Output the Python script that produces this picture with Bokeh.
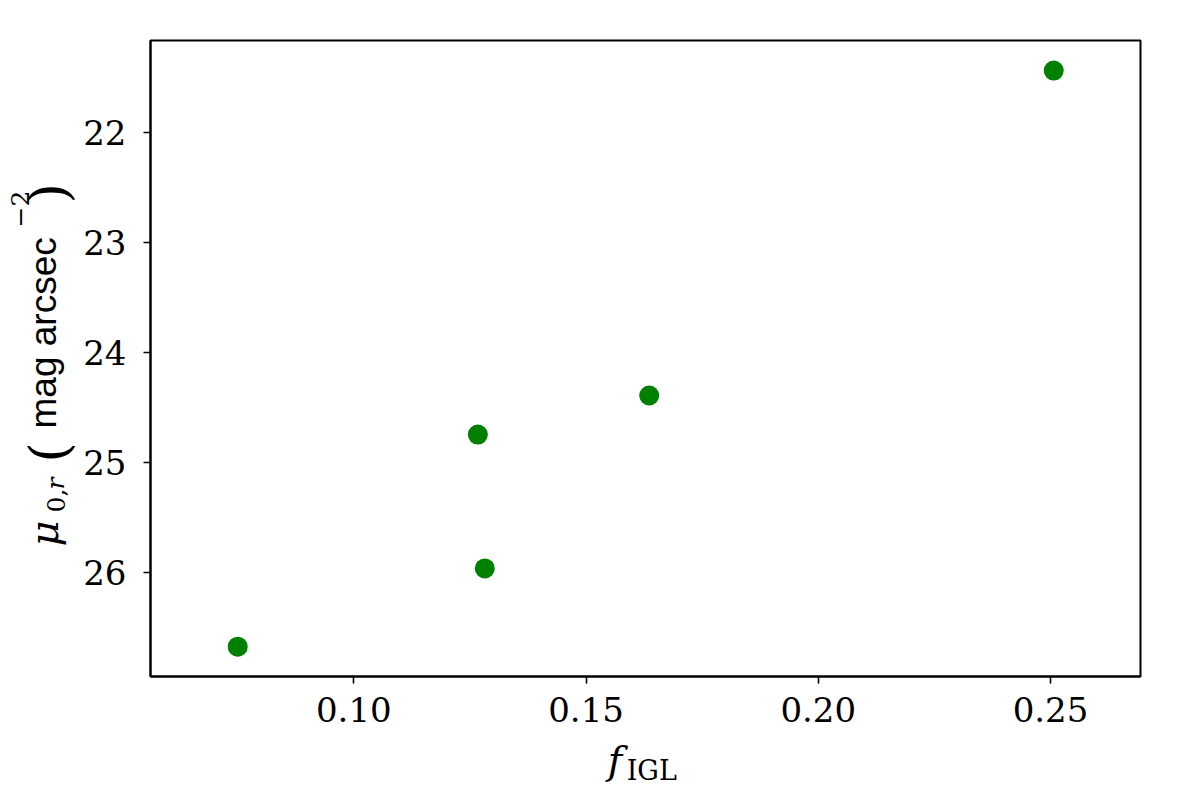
import math
from bokeh.plotting import figure
from bokeh.models import Range1d, FixedTicker
from bokeh.core.properties import value
from bokeh.layouts import row, column
from bokeh.embed import file_html
from bokeh.resources import INLINE

# ---- data ----
f_igl = [0.0750, 0.1267, 0.1282, 0.1636, 0.2507]
mu0_r = [26.67, 24.745, 25.96, 24.39, 21.44]

x_ticks = [0.10, 0.15, 0.20, 0.25]
x_tick_labels = ["0.10", "0.15", "0.20", "0.25"]
y_ticks = [22, 23, 24, 25, 26]
y_tick_labels = ["22", "23", "24", "25", "26"]

X0, X1 = 0.05622, 0.26938
Y_TOP, Y_BOT = 21.167, 26.941

YL_W = 80          # width of the strip holding the y-axis title
MAIN_W, MAIN_H = 1104, 736
XL_H = 60          # height of the strip holding the x-axis title

p = figure(width=MAIN_W, height=MAIN_H, output_backend="svg", toolbar_location=None,
           x_range=Range1d(X0, X1), y_range=Range1d(Y_BOT, Y_TOP),
           min_border_left=70, min_border_top=40, min_border_right=44,
           min_border_bottom=60)
p.background_fill_color = "white"
p.border_fill_color = "white"
p.outline_line_color = "black"
p.outline_line_width = 2
p.xgrid.visible = False
p.ygrid.visible = False

TICK_FONT = "DejaVu Serif"
for ax in (p.xaxis[0], p.yaxis[0]):
    ax.axis_line_color = "black"
    ax.axis_line_width = 2
    ax.major_tick_line_color = "black"
    ax.major_tick_line_width = 1.6
    ax.major_tick_out = 7
    ax.major_tick_in = 0
    ax.minor_tick_line_color = None
    ax.major_label_text_font = TICK_FONT
    ax.major_label_text_font_size = "34px"
    ax.major_label_text_color = "black"

p.xaxis.ticker = FixedTicker(ticks=x_ticks)
p.xaxis.major_label_overrides = {t: s for t, s in zip(x_ticks, x_tick_labels)}
p.yaxis.ticker = FixedTicker(ticks=y_ticks)
p.yaxis.major_label_overrides = {t: s for t, s in zip(y_ticks, y_tick_labels)}
p.xaxis.major_label_standoff = 13
p.yaxis.major_label_standoff = 17

p.scatter(f_igl, mu0_r, size=20, fill_color="green", line_color=None, marker="circle")


def strip(w, h):
    f = figure(width=w, height=h, output_backend="svg", toolbar_location=None,
               x_range=Range1d(0, w), y_range=Range1d(0, h),
               x_axis_location=None, y_axis_location=None,
               min_border=0, min_border_left=0, min_border_right=0,
               min_border_top=0, min_border_bottom=0)
    f.grid.visible = False
    f.outline_line_color = None
    f.background_fill_color = "white"
    f.border_fill_color = "white"
    return f


ylab = strip(YL_W, MAIN_H)
xlab = strip(MAIN_W, XL_H)

DX = -15   # measured rendering offset correction


def lab(fig, text, px, py, font, size, style="normal", angle=0.0):
    # px, py: intended page pixel position of the text anchor (baseline start)
    if fig is ylab:
        x, y = px + DX, MAIN_H - py
    else:
        x, y = px - YL_W + DX, XL_H - (py - MAIN_H)
    fig.text(x=[x], y=[y], text=[text], angle=angle,
             text_font=value(font), text_font_size=f"{size}px",
             text_font_style=style, text_color="black",
             text_align="left", text_baseline="alphabetic")

# x label: f_IGL
lab(xlab, "f", 605, 760, "DejaVu Serif", 39, "italic")
lab(xlab, "IGL", 626, 770, "DejaVu Serif", 27)

# y label: mu_{0,r} (mag arcsec^-2), rotated
A = math.pi / 2
lab(ylab, "\u03bc", 58, 546, "DejaVu Serif", 40, "italic", A)
lab(ylab, "0,", 70, 512, "DejaVu Serif", 25, "normal", A)
lab(ylab, "r", 70, 489, "DejaVu Serif", 25, "italic", A)
lab(ylab, "(", 63, 462, "DejaVu Serif", 52, "normal", A)
lab(ylab, "mag arcsec", 58, 428, "Liberation Sans", 37, "normal", A)
lab(ylab, "\u22122", 34, 227, "DejaVu Serif", 25, "normal", A)
lab(ylab, ")", 63, 203, "DejaVu Serif", 52, "normal", A)

layout = row(ylab, column(p, xlab, spacing=0), spacing=0)

open("out.html", "w").write(file_html(layout, INLINE))
